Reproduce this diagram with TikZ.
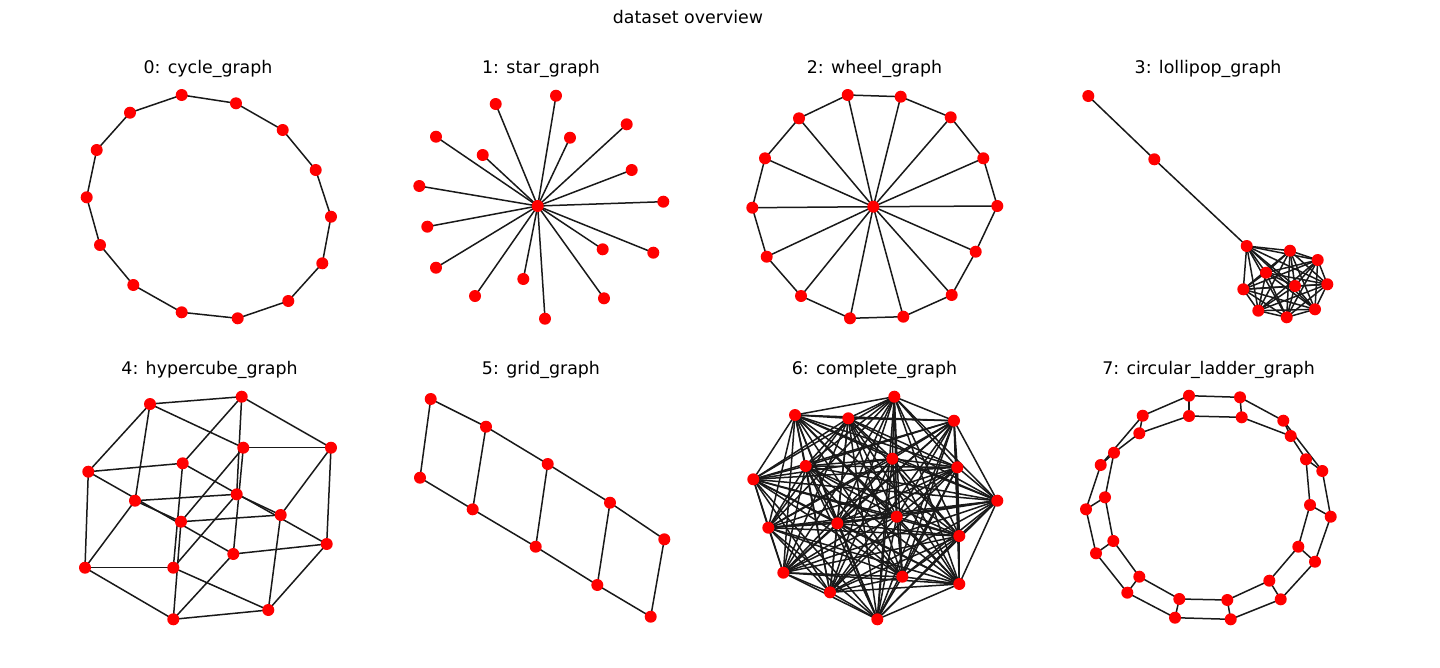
\documentclass[tikz,border=0pt]{standalone}
\usepackage{fontspec}
\setmainfont{DejaVu Sans}
\pgfdeclarelayer{bg}
\pgfsetlayers{bg,main}
\begin{document}
\begin{tikzpicture}[x=1pt,y=-1pt,
  vtx/.style={circle,fill=red,draw=none,inner sep=0pt,minimum size=12pt},
  edg/.style={line width=1.5pt,black!90},
  ttl/.style={anchor=base,font=\fontsize{17.4}{20}\selectfont,inner sep=0pt}]
\useasboundingbox (0,0) rectangle (1440,667);
\begin{pgfonlayer}{bg}
\fill[white] (0,0) rectangle (1440,667);
\end{pgfonlayer}

% titles
\node[ttl] (maintitle) at (688,23) {dataset overview};
\node[ttl] (t0) at (208,73) {0: cycle\_graph};
\node[ttl] (t1) at (541,73) {1: star\_graph};
\node[ttl] (t2) at (874.5,73) {2: wheel\_graph};
\node[ttl] (t3) at (1208,73) {3: lollipop\_graph};
\node[ttl] (t4) at (209.5,374) {4: hypercube\_graph};
\node[ttl] (t5) at (541,374) {5: grid\_graph};
\node[ttl] (t6) at (874.5,374) {6: complete\_graph};
\node[ttl] (t7) at (1208.5,374) {7: circular\_ladder\_graph};

% ---------- 0: cycle ----------
\foreach \n/\x/\y in {1/181.7/95, 2/236/103.3, 3/282.7/130, 4/315.7/170, 5/331/216.7,
  6/322.3/263.3, 7/288.3/301, 8/237.7/318.3, 9/181.7/312.3, 10/133.3/285,
  11/100/245, 12/86.7/197.3, 13/96.7/150, 14/130/112.7}
  \node[vtx] (cy\n) at (\x,\y) {};
\begin{pgfonlayer}{bg}
\foreach \a/\b in {1/2,2/3,3/4,4/5,5/6,6/7,7/8,8/9,9/10,10/11,11/12,12/13,13/14,14/1}
  \draw[edg] (cy\a.center) -- (cy\b.center);
\end{pgfonlayer}

% ---------- 1: star ----------
\node[vtx] (s0) at (537.7,206) {};
\foreach \n/\x/\y in {1/495.7/104, 2/556/95.7, 3/626.7/124.3, 4/570/137.7, 5/436/136.7,
  6/482.7/155, 7/631.7/170, 8/419.3/186, 9/663.3/201.7, 10/427.3/226.7,
  11/602.7/249.3, 12/653.3/252.7, 13/436/267.7, 14/523.3/279, 15/475/296,
  16/604/298.3, 17/545/318.7}
  \node[vtx] (sl\n) at (\x,\y) {};
\begin{pgfonlayer}{bg}
\foreach \n in {1,...,17} \draw[edg] (s0.center) -- (sl\n.center);
\end{pgfonlayer}

% ---------- 2: wheel ----------
\node[vtx] (w0) at (873.3,206.7) {};
\foreach \n/\x/\y in {1/847.7/95, 2/900.7/96.7, 3/950.7/117.3, 4/983.3/158.3, 5/997.3/206,
  6/975.7/251.7, 7/951.7/295, 8/903.3/316.7, 9/850/318.3, 10/801/296,
  11/766.7/256.7, 12/752.3/207.7, 13/765/158.3, 14/799/118.3}
  \node[vtx] (w\n) at (\x,\y) {};
\begin{pgfonlayer}{bg}
\foreach \n in {1,...,14} \draw[edg] (w0.center) -- (w\n.center);
\foreach \a/\b in {1/2,2/3,3/4,4/5,5/6,6/7,7/8,8/9,9/10,10/11,11/12,12/13,13/14,14/1}
  \draw[edg] (w\a.center) -- (w\b.center);
\end{pgfonlayer}

% ---------- 3: lollipop ----------
\node[vtx] (lp1) at (1088.3,96) {};
\node[vtx] (lp2) at (1154.3,159.3) {};
\foreach \n/\x/\y in {1/1246.7/246, 2/1290/250.7, 3/1317.7/260, 4/1266/272.7, 5/1295/286,
  6/1327.3/284.3, 7/1243.3/289.3, 8/1258.3/310.7, 9/1286.7/317.3, 10/1315/309.3}
  \node[vtx] (lq\n) at (\x,\y) {};
\begin{pgfonlayer}{bg}
\draw[edg] (lp1.center) -- (lp2.center);
\draw[edg] (lp2.center) -- (lq1.center);
\foreach \i [evaluate=\i as \ni using int(\i+1)] in {1,...,9}
  \foreach \j in {\ni,...,10}
    \draw[edg] (lq\i.center) -- (lq\j.center);
\end{pgfonlayer}

% ---------- 4: hypercube ----------
\foreach \n/\x/\y in {A/150/404, B/241.7/396.7, C/243.3/447.7, D/331/447.7,
  E/88.3/471.7, F/182.7/463.3, G/135/500.7, H/236.7/494.3, I/181/521.7,
  J/280.7/515, K/326.7/544, L/233.3/554, M/85/567.7, N/173.3/567.7,
  O/268.3/610, P/173.3/619.3}
  \node[vtx] (h\n) at (\x,\y) {};
\begin{pgfonlayer}{bg}
\foreach \a/\b in {A/B,E/F,M/N,G/H,I/J,L/K,P/O,C/D,
  A/E,A/G,A/C,E/M,G/M,M/P,E/L,G/I,C/I,C/L,P/I,P/L,
  B/F,B/H,B/D,F/N,H/N,N/O,F/K,H/J,D/J,D/K,O/J,O/K}
  \draw[edg] (h\a.center) -- (h\b.center);
\end{pgfonlayer}

% ---------- 5: grid ----------
\foreach \n/\x/\y in {1/430.7/399, 2/486/426.7, 3/547.7/464, 4/610/502.7, 5/664.3/539.3}
  \node[vtx] (gt\n) at (\x,\y) {};
\foreach \n/\x/\y in {1/420/477.7, 2/472.7/509.3, 3/535.7/546.7, 4/597.3/585, 5/650.7/616.7}
  \node[vtx] (gb\n) at (\x,\y) {};
\begin{pgfonlayer}{bg}
\foreach \a/\b in {1/2,2/3,3/4,4/5} {
  \draw[edg] (gt\a.center) -- (gt\b.center);
  \draw[edg] (gb\a.center) -- (gb\b.center);
}
\foreach \n in {1,...,5} \draw[edg] (gt\n.center) -- (gb\n.center);
\end{pgfonlayer}

% ---------- 6: complete ----------
\foreach \n/\x/\y in {1/894.3/396.7, 2/795/415, 3/848.3/418.3, 4/954/420.7, 5/892.3/458.7,
  6/805.7/466, 7/957.3/467.3, 8/753.3/479.3, 9/997.3/500.7, 10/896.7/516.7,
  11/837.3/523.3, 12/768.3/527.7, 13/959.3/536, 14/783.3/572.7, 15/902.3/576.7,
  16/959.3/584, 17/830/592.3, 18/877.3/619.3}
  \node[vtx] (k\n) at (\x,\y) {};
\begin{pgfonlayer}{bg}
\foreach \i [evaluate=\i as \ni using int(\i+1)] in {1,...,17}
  \foreach \j in {\ni,...,18}
    \draw[edg] (k\i.center) -- (k\j.center);
\end{pgfonlayer}

% ---------- 7: circular ladder ----------
\foreach \n/\x/\y in {1/1189/395.7, 2/1240/397.3, 3/1283.3/420.7, 4/1322.3/471,
  5/1330.7/516.7, 6/1315/561.7, 7/1280.7/599.3, 8/1230.7/619.3, 9/1175/617.7,
  10/1127.3/592.7, 11/1096/553.3, 12/1086/509.3, 13/1100.7/465, 14/1142.7/415.7}
  \node[vtx] (co\n) at (\x,\y) {};
\foreach \n/\x/\y in {1/1189/416, 2/1241.7/417.3, 3/1290.7/436, 4/1306/459.3,
  5/1310/505, 6/1298.3/546.7, 7/1269.3/580.7, 8/1227.3/600, 9/1179.3/599,
  10/1139.3/576.7, 11/1113.3/541, 12/1105/497.3, 13/1114/452.7, 14/1139.3/433.3}
  \node[vtx] (ci\n) at (\x,\y) {};
\begin{pgfonlayer}{bg}
\foreach \a/\b in {1/2,2/3,3/4,4/5,5/6,6/7,7/8,8/9,9/10,10/11,11/12,12/13,13/14,14/1} {
  \draw[edg] (co\a.center) -- (co\b.center);
  \draw[edg] (ci\a.center) -- (ci\b.center);
}
\foreach \n in {1,...,14} \draw[edg] (co\n.center) -- (ci\n.center);
\end{pgfonlayer}
\end{tikzpicture}
\end{document}
